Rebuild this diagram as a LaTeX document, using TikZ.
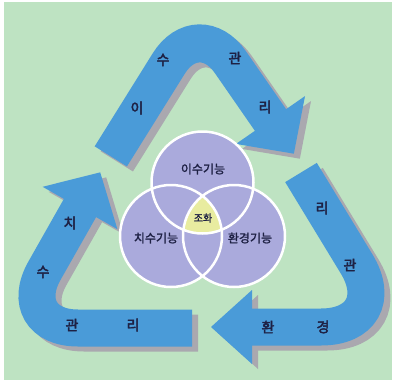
\documentclass[tikz,border=0pt]{standalone}
\usepackage{fontspec}
\newfontfamily\kr[FakeBold=1.5]{Noto Sans CJK KR}
\newfontfamily\krb[FakeBold=3]{Noto Sans CJK KR}
\usetikzlibrary{calc}
\definecolor{bg}{RGB}{190,227,194}
\definecolor{arrowblue}{RGB}{74,155,216}
\definecolor{shadowgray}{RGB}{170,168,175}
\definecolor{lav}{RGB}{170,170,220}
\definecolor{yel}{RGB}{232,236,160}
\definecolor{ink}{RGB}{30,33,68}
\begin{document}
\begin{tikzpicture}[x=1pt,y=-1pt,
  arrowlabel/.style={font=\krb\fontsize{14}{14}\selectfont, text=ink, inner sep=0pt},
  circlelabel/.style={font=\kr\fontsize{12}{12}\selectfont, text=ink, inner sep=0pt},
  ring/.style={draw=white, line width=2.5pt}]
\useasboundingbox (0,0) rectangle (396,383);
\fill[white] (0,0) rectangle (396,383);
\fill[bg] (4,1.5) rectangle (392,380);

% arrow geometry
\coordinate (T1) at (110.8,156.4);
\coordinate (V1) at (198.4,16);
\coordinate (H1) at (270.5,120);
\coordinate (T2) at (192,328);
\coordinate (V2) at (12,328);
\coordinate (H2) at (80,208);
\coordinate (T3) at (301,172.5);
\coordinate (V3) at (395,327);
\coordinate (H3) at (252,327);

\foreach \col/\dx/\dy in {shadowgray/6/5, arrowblue/0/0} {
  \begin{scope}[transform canvas={shift={(\dx,\dy)}}]
    \draw[color=\col, line width=38pt, rounded corners=56pt] (T1) -- (V1) -- ($(H1)!-3pt!(V1)$);
    \fill[color=\col] ($(H1)!42pt!90:(V1)$) -- ($(H1)!-41pt!(V1)$) -- ($(H1)!42pt!-90:(V1)$) -- cycle;
    \draw[color=\col, line width=37pt, rounded corners=66pt] (T2) -- (V2) -- ($(H2)!-3pt!(V2)$);
    \fill[color=\col] ($(H2)!43pt!90:(V2)$) -- ($(H2)!-41pt!(V2)$) -- ($(H2)!43pt!-90:(V2)$) -- cycle;
    \draw[color=\col, line width=37pt, rounded corners=74pt] (T3) -- (V3) -- ($(H3)!-3pt!(V3)$);
    \fill[color=\col] ($(H3)!37pt!90:(V3)$) -- ($(H3)!-41pt!(V3)$) -- ($(H3)!37pt!-90:(V3)$) -- cycle;
  \end{scope}
}

% Venn circles
\coordinate (C1) at (202.5,182.5);
\coordinate (C2) at (171,236);
\coordinate (C3) at (234,236);
\fill[lav] (C1) circle (51) (C2) circle (51) (C3) circle (51);
\begin{scope}
  \clip (C1) circle (51);
  \clip (C2) circle (51);
  \fill[yel] (C3) circle (51);
\end{scope}
\draw[ring] (C1) circle (51);
\draw[ring] (C2) circle (51);
\draw[ring] (C3) circle (51);

\node[circlelabel] (l1) at (203,169) {이수기능};
\node[circlelabel] (l2) at (156,238) {치수기능};
\node[circlelabel] (l3) at (250,238) {환경기능};
\node[circlelabel, font=\kr\fontsize{10}{10}\selectfont] (l0) at (203,218) {조화};

% arrow labels
\node[arrowlabel] (a1) at (137,108) {이};
\node[arrowlabel] (a2) at (163,60) {수};
\node[arrowlabel] (a3) at (235,58) {관};
\node[arrowlabel] (a4) at (265,107) {리};
\node[arrowlabel] (b1) at (70,223) {치};
\node[arrowlabel] (b2) at (43,272) {수};
\node[arrowlabel] (b3) at (72,325) {관};
\node[arrowlabel] (b4) at (133,325) {리};
\node[arrowlabel] (c1) at (322,208) {리};
\node[arrowlabel] (c2) at (350,265) {관};
\node[arrowlabel] (c3) at (268,327) {환};
\node[arrowlabel] (c4) at (323,327) {경};
\end{tikzpicture}
\end{document}
